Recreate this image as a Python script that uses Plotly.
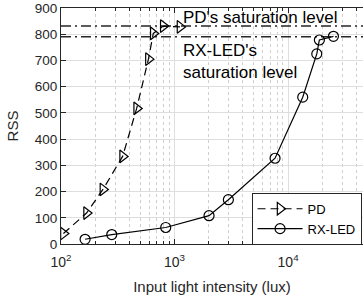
import numpy as np
import plotly.graph_objects as go

pd_lux = [105, 168, 234, 349, 464, 589, 650, 796, 1117]
pd_rss = [40, 118, 208, 334, 517, 705, 803, 831, 828]

led_lux = [163, 280, 836, 2013, 2980, 7680, 13460, 17900, 18870, 25100]
led_rss = [18, 36, 63, 108, 169, 327, 560, 725, 778, 792]

pd_sat = 831
led_sat = 790

x_tick_vals = [100, 1000, 10000]
x_tick_text = ["10<sup>2</sup>", "10<sup>3</sup>", "10<sup>4</sup>"]
y_tick_vals = [0, 100, 200, 300, 400, 500, 600, 700, 800, 900]

x_min, x_max = 100, 10 ** 4.66

minor_vals = [m * 10 ** e for e in (2, 3, 4) for m in range(2, 10) if m * 10 ** e < x_max]

FONT = "Liberation Sans, Arial, Helvetica, sans-serif"
INK = "#262626"

fig = go.Figure()

# saturation levels
fig.add_trace(go.Scatter(x=[x_min, x_max], y=[pd_sat, pd_sat], mode="lines",
                         line=dict(color=INK, width=1.5, dash="10px,4px,2px,4px"),
                         showlegend=False, hoverinfo="skip"))
fig.add_trace(go.Scatter(x=[x_min, x_max], y=[led_sat, led_sat], mode="lines",
                         line=dict(color=INK, width=1.5, dash="10px,4px,2px,4px"),
                         showlegend=False, hoverinfo="skip"))

fig.add_trace(go.Scatter(x=pd_lux, y=pd_rss, mode="lines+markers", name="PD",
                         line=dict(color="black", width=1.2, dash="8px,5px"),
                         marker=dict(symbol="triangle-right-open", size=11,
                                     color="black", line=dict(width=1.2)),
                         cliponaxis=False))
fig.add_trace(go.Scatter(x=led_lux, y=led_rss, mode="lines+markers", name="RX-LED",
                         line=dict(color="black", width=1.2),
                         marker=dict(symbol="circle-open", size=10,
                                     color="black", line=dict(width=1.2)),
                         cliponaxis=False))

fig.add_annotation(x=np.log10(1130), y=862, xref="x", yref="y",
                   text="PD's saturation level", showarrow=False,
                   xanchor="left", yanchor="middle",
                   font=dict(size=17, color="black", family=FONT))
fig.add_annotation(x=np.log10(1150), y=695, xref="x", yref="y",
                   text="RX-LED's<br>saturation level", showarrow=False,
                   xanchor="left", yanchor="middle", align="left",
                   font=dict(size=17, color="black", family=FONT))

fig.update_xaxes(type="log", range=[2, np.log10(x_max)], automargin=False,
                 tickvals=x_tick_vals, ticktext=x_tick_text,
                 ticks="inside", ticklen=5, tickcolor=INK, ticklabelstandoff=5,
                 showline=True, linecolor=INK, linewidth=1, mirror="allticks",
                 showgrid=True, gridcolor="#dedede", gridwidth=1,
                 zeroline=False,
                 minor=dict(tickvals=minor_vals, ticks="inside", ticklen=3,
                            tickcolor=INK, showgrid=True, gridcolor="#cfcfcf",
                            griddash="dot", gridwidth=1),
                 tickfont=dict(size=14, color=INK, family=FONT),
                 title=dict(text="Input light intensity (lux)", standoff=12,
                            font=dict(size=15, color=INK, family=FONT)))
fig.update_yaxes(range=[0, 900], tickvals=y_tick_vals, automargin=False,
                 ticks="inside", ticklen=5, tickcolor=INK,
                 showline=True, linecolor=INK, linewidth=1, mirror=False,
                 showgrid=True, gridcolor="#dedede", gridwidth=1,
                 zeroline=False,
                 tickfont=dict(size=13.5, color=INK, family=FONT),
                 title=dict(text="RSS", standoff=12,
                            font=dict(size=15, color=INK, family=FONT)))

fig.update_layout(
    width=363, height=296,
    margin=dict(l=61, r=0, t=8, b=52),
    plot_bgcolor="white", paper_bgcolor="white",
    font=dict(family=FONT, color=INK),
    legend=dict(x=0.631, y=0.217, xanchor="left", yanchor="top",
                bgcolor="white", bordercolor=INK, borderwidth=1,
                font=dict(size=13, color="black", family=FONT),
                itemwidth=45, tracegroupgap=0),
)

fig.write_html("out.html", config={"displayModeBar": False},
               post_script="document.body.style.margin='0';document.body.style.padding='0';")
